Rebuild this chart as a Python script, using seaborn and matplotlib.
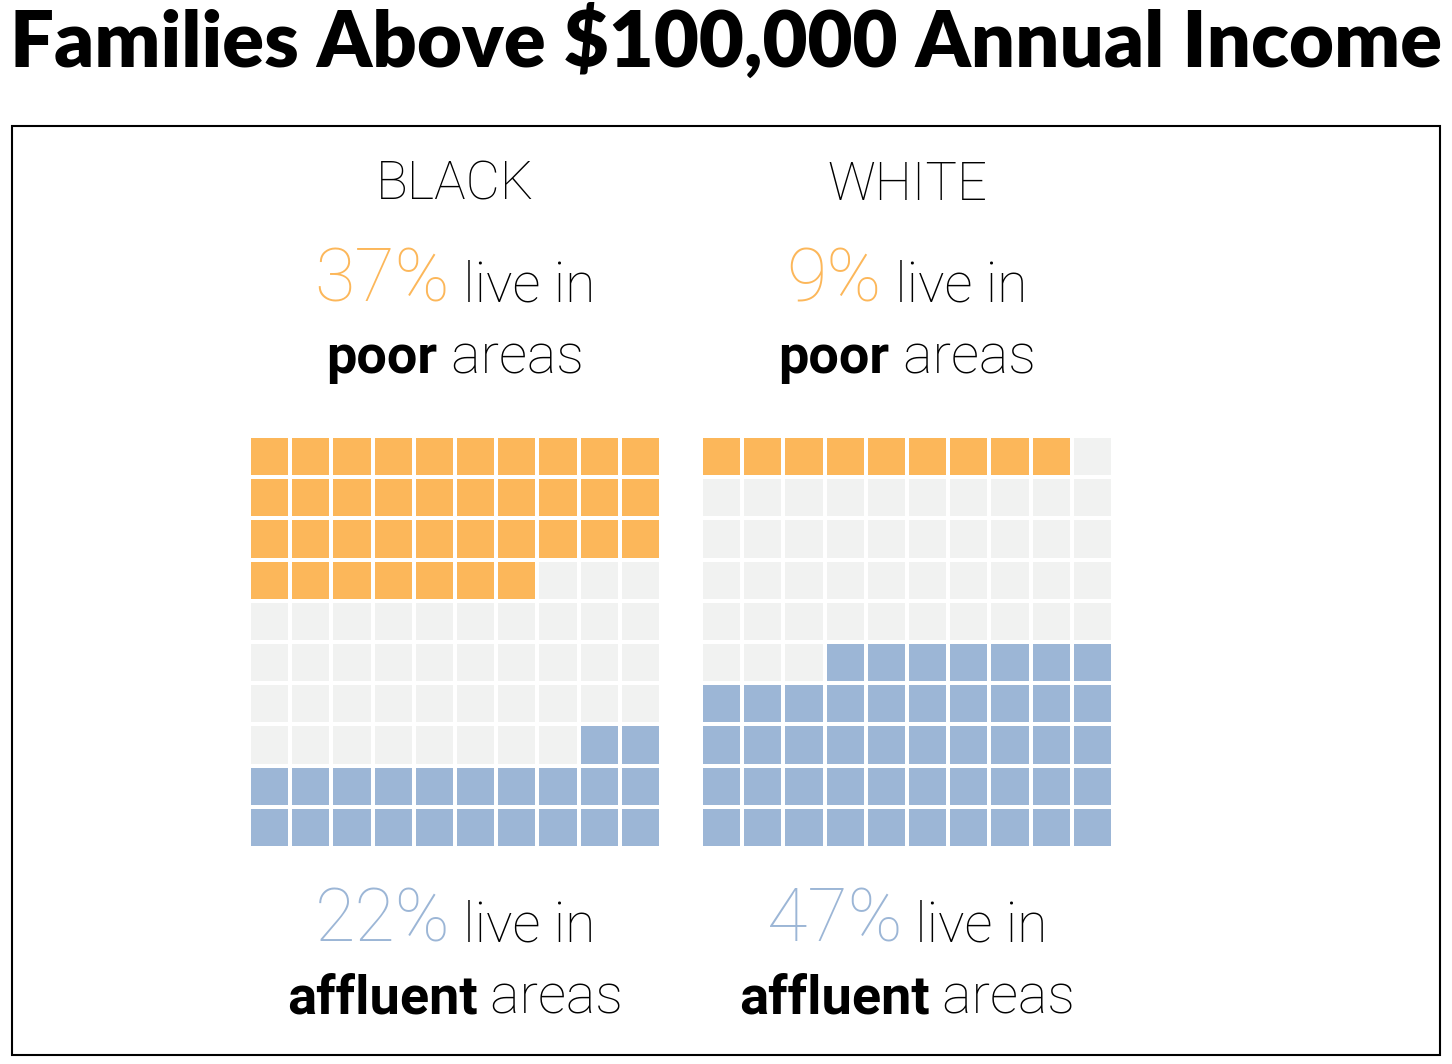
import numpy as np
import pandas as pd
import seaborn as sns
import matplotlib.pyplot as plt
from matplotlib.colors import ListedColormap
from matplotlib.patches import Rectangle

# data
groups = ["BLACK", "WHITE"]
poor_pct = [37, 9]
affluent_pct = [22, 47]

ORANGE = "#FCB75A"
BLUE = "#9CB6D6"
GREY = "#F1F2F1"


def waffle_grid(poor, affluent, n=10):
    # 0 = other, 1 = poor, 2 = affluent; poor fills from top-left,
    # affluent fills from bottom-right
    cells = np.zeros(n * n, dtype=int)
    cells[:poor] = 1
    if affluent > 0:
        cells[-affluent:] = 2
    return pd.DataFrame(cells.reshape(n, n))


def draw_pieces(fig, pieces, cx, y, **common):
    # draw text pieces side by side, then centre the whole line on cx
    renderer = fig.canvas.get_renderer()
    texts = []
    x = 0
    for s, kw in pieces:
        t = fig.text(x, y, s, transform=None, va="baseline", **common, **kw)
        bb = t.get_window_extent(renderer)
        texts.append((t, x))
        x += bb.width
    total = x
    W, H = fig.bbox.width, fig.bbox.height
    x0 = cx * W - total / 2
    for t, dx in texts:
        t.set_transform(fig.transFigure)
        t.set_position(((x0 + dx) / W, y))
    return texts


sns.set_theme(style="white")
plt.rcParams["font.family"] = ["Roboto", "DejaVu Sans"]
LIGHT = dict(family=["Roboto", "DejaVu Sans"], fontweight="light")
BOLD = dict(family=["Roboto", "DejaVu Sans"], fontweight="bold")

fig = plt.figure(figsize=(14.52, 10.64), dpi=100)
W, H = 1452, 1064

fig.text(10 / W, 1 - 67 / H, "Families Above $100,000 Annual Income",
         fontsize=56, fontweight="heavy", family=["Lato", "DejaVu Sans"],
         color="black", va="baseline")

fig.add_artist(Rectangle((12 / W, 1 - 1055 / H), 1428 / W, 929 / H,
                         transform=fig.transFigure, fill=False,
                         edgecolor="black", linewidth=1.5))

cmap = ListedColormap([GREY, ORANGE, BLUE])
lefts = [249, 701]
centers = [455, 907]

fig.canvas.draw()
for i, g in enumerate(groups):
    ax = fig.add_axes([lefts[i] / W, 1 - 848 / H, 412 / W, 412 / H])
    grid = waffle_grid(poor_pct[i], affluent_pct[i])
    sns.heatmap(grid, ax=ax, cmap=cmap, vmin=-0.5, vmax=2.5, cbar=False,
                linewidths=1.5, linecolor="white", square=False,
                xticklabels=False, yticklabels=False)
    ax.set_xlabel("")
    ax.set_ylabel("")

    cx = centers[i] / W
    fig.text(cx, 1 - 200 / H, g, ha="center", va="baseline",
             fontsize=38, color="black", **LIGHT)
    draw_pieces(fig, [(f"{poor_pct[i]}%", dict(color=ORANGE, fontsize=53, **LIGHT)),
                      (" live in", dict(color="black", fontsize=40, **LIGHT))],
                cx, 1 - 301 / H)
    draw_pieces(fig, [("poor", dict(color="black", fontsize=39, **BOLD)),
                      (" areas", dict(color="black", fontsize=40, **LIGHT))],
                cx, 1 - 373 / H)
    draw_pieces(fig, [(f"{affluent_pct[i]}%", dict(color=BLUE, fontsize=53, **LIGHT)),
                      (" live in", dict(color="black", fontsize=40, **LIGHT))],
                cx, 1 - 941 / H)
    draw_pieces(fig, [("affluent", dict(color="black", fontsize=39, **BOLD)),
                      (" areas", dict(color="black", fontsize=40, **LIGHT))],
                cx, 1 - 1013 / H)

fig.savefig("out.png", dpi=100)
